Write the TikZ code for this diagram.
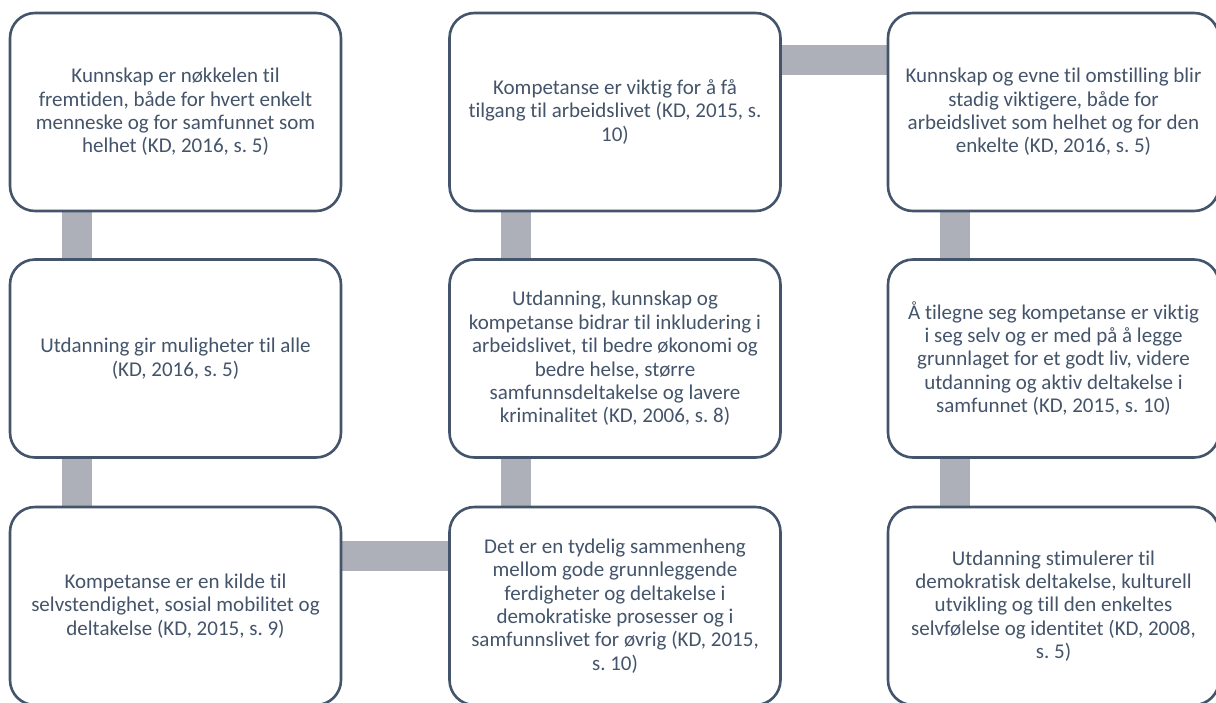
\documentclass[tikz,border=0pt]{standalone}
\usepackage{fontspec}
\setmainfont{Carlito}[Ligatures=NoCommon]
\frenchspacing
\usetikzlibrary{calc,backgrounds}
\definecolor{slate}{HTML}{44546A}
\definecolor{barg}{HTML}{ADB0B8}
\tikzset{
  box/.style={draw=slate, line width=2.6pt, fill=white, rounded corners=25pt,
    minimum width=331pt, minimum height=198pt, align=center, text=slate,
    font=\fontsize{21}{23.4}\selectfont, inner sep=0pt},
  bar/.style={draw=barg, line width=30pt, line cap=butt}
}
\begin{document}
\begin{tikzpicture}[x=1pt,y=-1pt]
\useasboundingbox (0,0) rectangle (1216,702);
\clip (0,0) rectangle (1216,702);
% column 1
\node[box] (a1) at (175.5,112) {Kunnskap er nøkkelen til\\fremtiden, både for hvert enkelt\\menneske og for samfunnet som\\helhet (KD, 2016, s. 5)};
\node[box] (a2) at (175.5,358.5) {Utdanning gir muligheter til alle\\(KD, 2016, s. 5)};
\node[box] (a3) at (175.5,606) {Kompetanse er en kilde til\\selvstendighet, sosial mobilitet og\\deltakelse (KD, 2015, s. 9)};
% column 2
\node[box] (b1) at (615,112) {Kompetanse er viktig for å få\\tilgang til arbeidslivet (KD, 2015, s.\\10)};
\node[box] (b2) at (615,358.5) {Utdanning, kunnskap og\\kompetanse bidrar til inkludering i\\arbeidslivet, til bedre økonomi og\\bedre helse, større\\samfunnsdeltakelse og lavere\\kriminalitet (KD, 2006, s. 8)};
\node[box] (b3) at (615,606) {Det er en tydelig sammenheng\\mellom gode grunnleggende\\ferdigheter og deltakelse i\\demokratiske prosesser og i\\samfunnslivet for øvrig (KD, 2015,\\s. 10)};
% column 3
\node[box] (c1) at (1053.5,112) {Kunnskap og evne til omstilling blir\\stadig viktigere, både for\\arbeidslivet som helhet og for den\\enkelte (KD, 2016, s. 5)};
\node[box] (c2) at (1053.5,358.5) {Å tilegne seg kompetanse er viktig\\i seg selv og er med på å legge\\grunnlaget for et godt liv, videre\\utdanning og aktiv deltakelse i\\samfunnet (KD, 2015, s. 10)};
\node[box] (c3) at (1053.5,606) {Utdanning stimulerer til\\demokratisk deltakelse, kulturell\\utvikling og till den enkeltes\\selvfølelse og identitet (KD, 2008,\\s. 5)};
% connecting bars
\begin{scope}[on background layer]
\draw[bar] ($(a1.south west)+(68,0)$) -- ($(a2.north west)+(68,0)$);
\draw[bar] ($(a2.south west)+(68,0)$) -- ($(a3.north west)+(68,0)$);
\draw[bar] ($(a3.north east)+(0,50)$) -- ($(b3.north west)+(0,50)$);
\draw[bar] ($(b3.north west)+(68,0)$) -- ($(b2.south west)+(68,0)$);
\draw[bar] ($(b2.north west)+(68,0)$) -- ($(b1.south west)+(68,0)$);
\draw[bar] ($(b1.north east)+(0,48)$) -- ($(c1.north west)+(0,48)$);
\draw[bar] ($(c1.south west)+(68,0)$) -- ($(c2.north west)+(68,0)$);
\draw[bar] ($(c2.south west)+(68,0)$) -- ($(c3.north west)+(68,0)$);
\end{scope}
\end{tikzpicture}
\end{document}
